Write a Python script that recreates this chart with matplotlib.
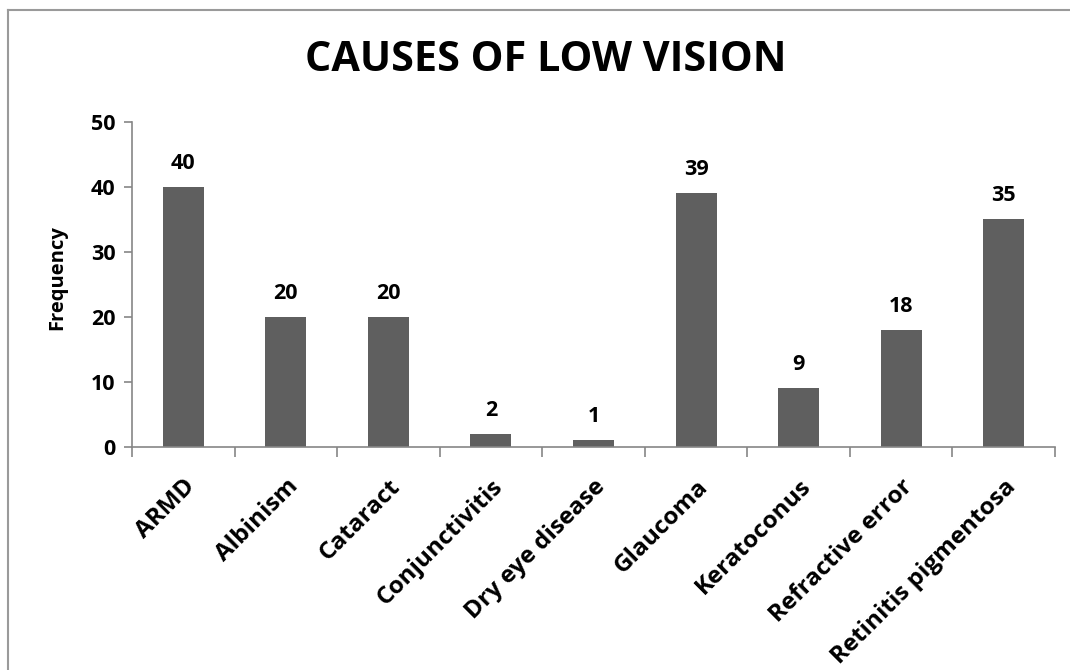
import numpy as np
import matplotlib.pyplot as plt
from matplotlib.lines import Line2D

causes = ["ARMD", "Albinism", "Cataract", "Conjunctivitis", "Dry eye disease",
          "Glaucoma", "Keratoconus", "Refractive error", "Retinitis pigmentosa"]
frequency = [40, 20, 20, 2, 1, 39, 9, 18, 35]
y_ticks = [0, 10, 20, 30, 40, 50]

plt.rcParams['font.family'] = ['Open Sans', 'DejaVu Sans']
plt.rcParams['font.weight'] = 'bold'

fig = plt.figure(figsize=(10.7, 6.7), dpi=100)
ax = fig.add_axes([0.1234, 0.333, 0.8626, 0.4854])

x = np.arange(len(causes))
ax.bar(x, frequency, width=0.4, color='#5f5f5f')

# value labels above bars
for xi, v in zip(x, frequency):
    ax.text(xi, v + 2.0, str(v), ha='center', va='bottom', fontsize=15.5, fontweight='bold')

ax.set_xlim(-0.5, len(causes) - 0.5)
ax.set_ylim(0, 50)
ax.set_yticks(y_ticks)
ax.set_yticklabels([str(t) for t in y_ticks], fontsize=15.5, fontweight='bold')

ax.set_xticks(x)
ax.set_xticklabels(causes, rotation=45, ha='right', rotation_mode='anchor',
                   fontsize=17.5, fontweight='bold')
ax.tick_params(axis='x', which='major', length=0, pad=20)
ax.set_xticks(np.arange(-0.5, len(causes), 1), minor=True)
ax.tick_params(axis='x', which='minor', length=7, color='#868686', width=1.2)
ax.tick_params(axis='y', length=6, color='#868686', width=1.2, pad=6)

for side in ['top', 'right']:
    ax.spines[side].set_visible(False)
for side in ['left', 'bottom']:
    ax.spines[side].set_color('#868686')
    ax.spines[side].set_linewidth(1.2)

ax.set_ylabel("Frequency", fontsize=14.5, fontweight='bold', labelpad=12)
ax.yaxis.set_label_coords(-0.07, 0.52)

fig.text(0.510, 0.910, "CAUSES OF LOW VISION", ha='center', va='center',
         fontsize=29.8, fontweight='bold')

# chart border (left and top visible)
fig.add_artist(Line2D([0.0075, 0.0075], [0.0, 0.985], color='#9a9a9a', linewidth=1.5,
                      transform=fig.transFigure))
fig.add_artist(Line2D([0.0075, 1.0], [0.985, 0.985], color='#9a9a9a', linewidth=1.5,
                      transform=fig.transFigure))

plt.savefig("out.png", dpi=100)
